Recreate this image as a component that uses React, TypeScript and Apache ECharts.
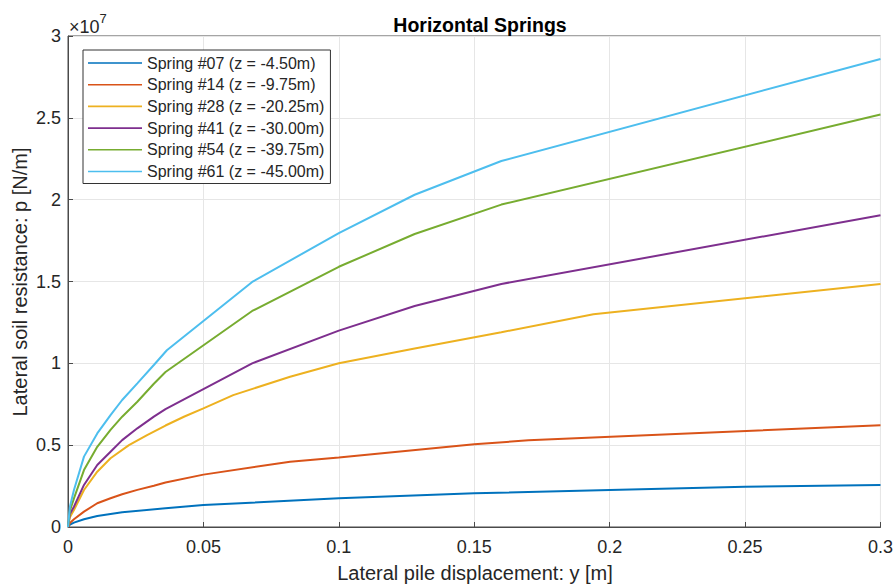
import React, { useEffect, useRef } from "react";
import * as echarts from "echarts";

// displacement y [m] and soil resistance p [x1e6 N/m]
const seriesNames = [
  "Spring #07 (z = -4.50m)",
  "Spring #14 (z = -9.75m)",
  "Spring #28 (z = -20.25m)",
  "Spring #41 (z = -30.00m)",
  "Spring #54 (z = -39.75m)",
  "Spring #61 (z = -45.00m)",
];
const colors = ["#0072BD", "#D95319", "#EDB120", "#7E2F8E", "#77AC30", "#4DBEEE"];

const y07 = [0, 0.0007, 0.0022, 0.0059, 0.0108, 0.02, 0.036, 0.05, 0.1, 0.15, 0.2, 0.25, 0.3];
const p07 = [0, 0.14, 0.27, 0.47, 0.67, 0.9, 1.14, 1.34, 1.75, 2.06, 2.26, 2.46, 2.57];

const y14 = [0, 0.0007, 0.0022, 0.0059, 0.0108, 0.0157, 0.02, 0.0256, 0.0317, 0.036, 0.05, 0.082, 0.1, 0.15, 0.17, 0.3];
const p14 = [0, 0.25, 0.47, 0.94, 1.45, 1.76, 2.0, 2.27, 2.52, 2.72, 3.2, 3.99, 4.25, 5.05, 5.3, 6.22];

const y28 = [0, 0.0007, 0.0022, 0.0059, 0.0108, 0.0157, 0.0225, 0.0292, 0.036, 0.043, 0.05, 0.061, 0.082, 0.1, 0.128, 0.16, 0.194, 0.3];
const p28 = [0, 0.6, 1.04, 2.26, 3.38, 4.2, 5.0, 5.62, 6.2, 6.75, 7.25, 8.06, 9.18, 10.0, 10.9, 11.9, 13.0, 14.85];

const y41 = [0, 0.0007, 0.0022, 0.0059, 0.0108, 0.0157, 0.02, 0.0256, 0.0317, 0.036, 0.068, 0.1, 0.128, 0.16, 0.3];
const p41 = [0, 0.8, 1.24, 2.57, 3.79, 4.6, 5.31, 6.03, 6.74, 7.2, 10.0, 12.0, 13.5, 14.85, 19.05];

const y54 = [0, 0.0007, 0.0022, 0.0059, 0.0108, 0.0157, 0.02, 0.0256, 0.0317, 0.036, 0.068, 0.1, 0.128, 0.16, 0.3];
const p54 = [0, 1.0, 1.75, 3.48, 4.9, 5.93, 6.74, 7.65, 8.75, 9.47, 13.2, 15.9, 17.9, 19.7, 25.2];

const y61 = [0, 0.0007, 0.0022, 0.0059, 0.0108, 0.0157, 0.02, 0.0256, 0.0317, 0.0365, 0.068, 0.1, 0.128, 0.16, 0.3];
const p61 = [0, 1.24, 2.26, 4.3, 5.72, 6.84, 7.76, 8.78, 9.9, 10.8, 14.97, 17.96, 20.3, 22.36, 28.6];

const xs = [y07, y14, y28, y41, y54, y61];
const ps = [p07, p14, p28, p41, p54, p61];

const FONT = "'Liberation Sans', Arial, Helvetica, sans-serif";
const TXT = "#262626";
const LEGEND_ICON =
  "path://M0,0L0.01,0L0.01,0.01Z M0,7.2L54,7.2L54,8.8L0,8.8Z M53.99,16L54,16L54,15.99Z";

export default function App() {
  const ref = useRef<HTMLDivElement>(null);
  useEffect(() => {
    if (!ref.current) return;
    const chart = echarts.init(ref.current, undefined, { renderer: "svg" });
    const series = seriesNames.map((name, i) => ({
      name,
      type: "line",
      data: xs[i].map((x, k) => [x, ps[i][k] * 1e6]),
      symbol: "none",
      showSymbol: false,
      lineStyle: { color: colors[i], width: 2 },
      itemStyle: { color: colors[i] },
      clip: true,
    }));
    chart.setOption({
      animation: false,
      backgroundColor: "#ffffff",
      textStyle: { fontFamily: FONT },
      title: {
        text: "Horizontal Springs",
        left: 475,
        top: 10,
        textAlign: "center",
        textStyle: { fontFamily: FONT, fontSize: 19.5, fontWeight: "bold", color: "#000" },
      },
      grid: {
        left: 68,
        right: 14,
        top: 36,
        bottom: 57,
        show: true,
        borderColor: "#4a4a4a",
        borderWidth: 1,
        backgroundColor: "transparent",
      },
      legend: {
        orient: "vertical",
        left: 83,
        top: 50,
        padding: [5, 6, 4, 5],
        itemWidth: 54,
        itemHeight: 16,
        itemGap: 5.7,
        icon: LEGEND_ICON,
        backgroundColor: "#ffffff",
        borderColor: "#333333",
        borderWidth: 1,
        textStyle: { fontFamily: FONT, fontSize: 16, color: TXT, lineHeight: 16, padding: [0, 0, 0, 0] },
        data: seriesNames,
      },
      xAxis: {
        type: "value",
        min: 0,
        max: 0.3,
        interval: 0.05,
        axisLine: { show: true, onZero: false, lineStyle: { color: "#4a4a4a", width: 1 } },
        axisTick: { show: true, inside: true, length: 5, lineStyle: { color: "#4a4a4a" } },
        splitLine: { show: true, lineStyle: { color: "#e6e6e6", width: 1 } },
        axisLabel: {
          margin: 11,
          fontSize: 18,
          color: TXT,
          fontFamily: FONT,
          formatter: (v: number) => String(parseFloat(v.toFixed(2))),
        },
      },
      yAxis: {
        type: "value",
        min: 0,
        max: 3e7,
        interval: 5e6,
        axisLine: { show: true, onZero: false, lineStyle: { color: "#4a4a4a", width: 1 } },
        axisTick: { show: true, inside: true, length: 5, lineStyle: { color: "#4a4a4a" } },
        splitLine: { show: true, lineStyle: { color: "#e6e6e6", width: 1 } },
        axisLabel: {
          margin: 7,
          fontSize: 18,
          color: TXT,
          fontFamily: FONT,
          formatter: (v: number) => String(parseFloat((v / 1e7).toFixed(2))),
        },
      },
      graphic: [
        {
          type: "text",
          x: 475,
          y: 573,
          style: {
            text: "Lateral pile displacement: y [m]",
            fontFamily: FONT,
            fontSize: 20,
            fill: TXT,
            align: "center",
            verticalAlign: "middle",
          },
        },
        {
          type: "text",
          x: 20,
          y: 282,
          rotation: Math.PI / 2,
          style: {
            text: "Lateral soil resistance: p [N/m]",
            fontFamily: FONT,
            fontSize: 20,
            fill: TXT,
            align: "center",
            verticalAlign: "middle",
          },
        },
        {
          type: "text",
          x: 69,
          y: 8,
          style: {
            text: "{a|×10}{b|7}",
            fontFamily: FONT,
            fill: TXT,
            rich: {
              a: { fontSize: 18, fontFamily: FONT, fill: TXT, padding: [10, 0, 0, 0] },
              b: { fontSize: 13, fontFamily: FONT, fill: TXT, padding: [0, 0, 8, 0] },
            },
          },
        },
      ],
      series,
    });
    return () => chart.dispose();
  }, []);
  return (
    <div
      ref={ref}
      style={{ position: "absolute", left: 0, top: 0, width: 896, height: 584 }}
    />
  );
}
